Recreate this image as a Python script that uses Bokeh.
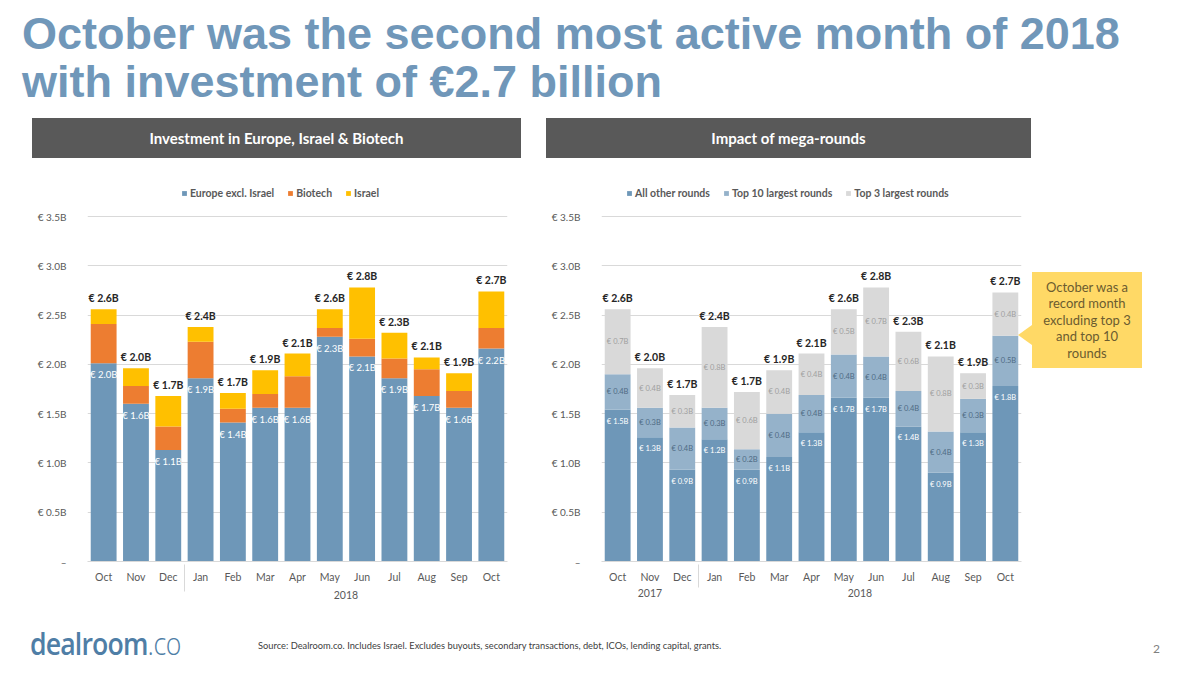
from bokeh.plotting import figure
from bokeh.models import (ColumnDataSource, FactorRange, Range1d, FixedTicker,
                          Legend, LegendItem, Div, Spacer)
from bokeh.layouts import column, row
from bokeh.core.properties import value
from bokeh.embed import file_html
from bokeh.resources import INLINE

# ---------------- data ----------------
months = ["Oct", "Nov", "Dec", "Jan", "Feb", "Mar", "Apr", "May", "Jun", "Jul", "Aug", "Sep", "Oct"]
years_left = [" ", " ", " ", "2018", "2018", "2018", "2018", "2018", "2018", "2018", "2018", "2018", "2018"]
years_right = ["2017", "2017", "2017", "2018", "2018", "2018", "2018", "2018", "2018", "2018", "2018", "2018", "2018"]

# Investment in Europe, Israel & Biotech (EUR billion)
europe = [2.01, 1.60, 1.13, 1.86, 1.41, 1.56, 1.56, 2.28, 2.08, 1.86, 1.68, 1.56, 2.16]
biotech = [0.40, 0.18, 0.24, 0.37, 0.14, 0.14, 0.32, 0.09, 0.18, 0.20, 0.27, 0.17, 0.21]
israel = [0.15, 0.18, 0.31, 0.15, 0.16, 0.24, 0.23, 0.19, 0.52, 0.26, 0.12, 0.18, 0.37]

# Impact of mega-rounds (EUR billion)
other_rounds = [1.54, 1.26, 0.93, 1.24, 0.93, 1.06, 1.31, 1.66, 1.66, 1.37, 0.90, 1.31, 1.78]
top10_rounds = [0.36, 0.30, 0.43, 0.32, 0.21, 0.44, 0.38, 0.44, 0.42, 0.36, 0.42, 0.34, 0.51]
top3_rounds = [0.66, 0.40, 0.33, 0.82, 0.58, 0.44, 0.42, 0.46, 0.70, 0.60, 0.76, 0.26, 0.44]

yticks = [0.0, 0.5, 1.0, 1.5, 2.0, 2.5, 3.0, 3.5]
ytick_labels = ["–", "€ 0.5B", "€ 1.0B", "€ 1.5B", "€ 2.0B", "€ 2.5B", "€ 3.0B", "€ 3.5B"]

left_legend = ["Europe excl. Israel", "Biotech", "Israel"]
right_legend = ["All other rounds", "Top 10 largest rounds", "Top 3 largest rounds"]

# ---------------- styles ----------------
FONT = "Lato"
GREY_TXT = "#595959"
GRID = "#d9d9d9"
C_EU, C_BIO, C_ISR = "#6e97b8", "#ed7d31", "#ffc000"
C_OTH, C_T10, C_T3 = "#6e97b8", "#95b2ca", "#d9d9d9"

AXIS_PX = 345          # pixels for 0 .. 3.5
HEAD_PX = 36           # extra frame room above 3.5 for the legend
Y_TOP = 3.5 * (AXIS_PX + HEAD_PX) / AXIS_PX


def eur(v):
    return "€ %.1fB" % v


def base_fig(factors, width, border_left, border_right):
    p = figure(x_range=FactorRange(*factors, factor_padding=0, group_padding=0, range_padding=0),
               y_range=Range1d(0, Y_TOP), width=width, height=457,
               min_border_left=border_left, min_border_right=border_right,
               min_border_top=58 - HEAD_PX, min_border_bottom=54,
               output_backend="svg", toolbar_location=None)
    p.outline_line_color = None
    p.xgrid.grid_line_color = None
    p.ygrid.grid_line_color = GRID
    p.ygrid.grid_line_width = 1
    ya = p.yaxis[0]
    ya.ticker = FixedTicker(ticks=yticks)
    ya.major_label_overrides = {t: l for t, l in zip(yticks, ytick_labels)}
    ya.axis_line_color = None
    ya.major_tick_line_color = None
    ya.minor_tick_line_color = None
    ya.major_label_standoff = 15
    ya.major_label_text_font = FONT
    ya.major_label_text_font_size = "10px"
    ya.major_label_text_color = GREY_TXT
    xa = p.xaxis[0]
    xa.axis_line_color = GRID
    xa.major_tick_line_color = None
    xa.minor_tick_line_color = None
    xa.separator_line_color = GRID
    xa.separator_line_width = 1
    xa.major_label_text_font = FONT
    xa.major_label_text_font_size = "10.5px"
    xa.major_label_text_color = GREY_TXT
    xa.major_label_standoff = 3
    xa.group_text_font = FONT
    xa.group_text_font_size = "10.5px"
    xa.group_text_font_style = "normal"
    xa.group_text_color = GREY_TXT
    return p


def add_legend(p, items, x_px):
    lg = Legend(items=items, orientation="horizontal", location=(x_px, AXIS_PX + 16),
                border_line_color=None, background_fill_alpha=0,
                glyph_width=6, glyph_height=6, label_standoff=3, spacing=13,
                label_height=14, padding=0, margin=0,
                label_text_font=FONT, label_text_font_size="10.5px",
                label_text_font_style="bold", label_text_color=GREY_TXT)
    p.add_layout(lg, "center")


# ---------------- left chart ----------------
fl = list(zip(years_left, months))
tot_l = [a + b + c for a, b, c in zip(europe, biotech, israel)]
src_l = ColumnDataSource(dict(x=fl, europe=europe, biotech=biotech, israel=israel,
                              total=tot_l, tot_lbl=[eur(v) for v in tot_l],
                              eu_lbl=[eur(v) for v in europe]))
pl = base_fig(fl, 489, 55, 14)
rl = pl.vbar_stack(["europe", "biotech", "israel"], x="x", width=0.8,
                   color=[C_EU, C_BIO, C_ISR], line_color=None, source=src_l)
pl.text(x="x", y="total", text="tot_lbl", source=src_l, text_font=value(FONT),
        text_font_style="bold", text_font_size="10.5px", text_color="#262626",
        text_align="center", text_baseline="bottom", y_offset=-5)
pl.text(x="x", y="europe", text="eu_lbl", source=src_l, text_font=value(FONT),
        text_font_size="9.5px", text_color="white",
        text_align="center", text_baseline="top", y_offset=6)
add_legend(pl, [LegendItem(label=n, renderers=[r]) for n, r in zip(left_legend, rl)], 94)

# ---------------- right chart ----------------
fr = list(zip(years_right, months))
tot_r = [a + b + c for a, b, c in zip(other_rounds, top10_rounds, top3_rounds)]
src_r = ColumnDataSource(dict(
    x=fr, other=other_rounds, top10=top10_rounds, top3=top3_rounds,
    total=tot_r, tot_lbl=[eur(v) for v in tot_r],
    oth_lbl=[eur(v) for v in other_rounds],
    t10_lbl=[eur(v) for v in top10_rounds],
    t3_lbl=[eur(v) for v in top3_rounds],
    t10_mid=[a + b / 2 for a, b in zip(other_rounds, top10_rounds)],
    t3_mid=[a + b + c / 2 for a, b, c in zip(other_rounds, top10_rounds, top3_rounds)]))
pr = base_fig(fr, 477, 55, 2)
rr = pr.vbar_stack(["other", "top10", "top3"], x="x", width=0.8,
                   color=[C_OTH, C_T10, C_T3], line_color=None, source=src_r)
pr.text(x="x", y="total", text="tot_lbl", source=src_r, text_font=value(FONT),
        text_font_style="bold", text_font_size="10.5px", text_color="#262626",
        text_align="center", text_baseline="bottom", y_offset=-5)
pr.text(x="x", y="other", text="oth_lbl", source=src_r, text_font=value(FONT),
        text_font_size="7.5px", text_color="white",
        text_align="center", text_baseline="top", y_offset=7)
pr.text(x="x", y="t10_mid", text="t10_lbl", source=src_r, text_font=value(FONT),
        text_font_size="7.5px", text_color="#4f6b84",
        text_align="center", text_baseline="middle")
pr.text(x="x", y="t3_mid", text="t3_lbl", source=src_r, text_font=value(FONT),
        text_font_size="7.5px", text_color="#a0a0a0",
        text_align="center", text_baseline="middle")
add_legend(pr, [LegendItem(label=n, renderers=[r]) for n, r in zip(right_legend, rr)], 25)

# ---------------- page furniture ----------------
title = Div(text=(
    '<div style="font-family:\'Liberation Sans\',Arial,sans-serif;font-weight:bold;'
    'font-size:45px;line-height:48px;color:#7097b9;padding:2px 0 0 14px;white-space:nowrap;">'
    'October was the second most active month of 2018<br>with investment of €2.7 billion</div>'),
    width=1184, height=110, margin=(0, 0, 0, 0))


def header(txt, w):
    return Div(text=(
        '<div style="width:%dpx;height:40px;background:#595959;color:#ffffff;'
        'font-family:Lato,sans-serif;font-weight:bold;font-size:15px;line-height:40px;'
        'text-align:center;white-space:nowrap;">%s</div>' % (w, txt)),
        width=w, height=40, margin=(0, 0, 0, 0))


callout = Div(text=(
    '<div style="position:relative;width:130px;height:497px;">'
    '<div style="position:absolute;left:-13px;top:207px;width:0;height:0;'
    'border-top:10px solid transparent;border-bottom:10px solid transparent;'
    'border-right:14px solid #ffd966;"></div>'
    '<div style="position:absolute;left:1px;top:154px;width:110px;height:96px;background:#ffd966;'
    'color:#6b5c30;font-family:Lato,sans-serif;font-size:13px;line-height:16.5px;text-align:center;'
    'display:flex;align-items:center;justify-content:center;">'
    'October was a<br>record month<br>excluding top 3<br>and top 10<br>rounds</div></div>'),
    width=130, height=497, margin=(0, 0, 0, 0))

footer = Div(text=(
    '<div style="position:relative;width:1184px;height:52px;">'
    '<div style="position:absolute;left:22px;top:11px;font-family:\'Open Sans\',sans-serif;'
    'font-size:31px;line-height:34px;color:#4f7ea6;white-space:nowrap;letter-spacing:-1px;'
    'transform:scaleX(0.86);transform-origin:left center;">'
    '<span style="font-weight:600;">dealroom</span><span style="font-weight:300;letter-spacing:-0.5px;">.co</span></div>'
    '<div style="position:absolute;left:250px;top:26px;font-family:Lato,sans-serif;font-size:9.3px;'
    'line-height:10px;color:#404040;white-space:nowrap;">Source: Dealroom.co. Includes Israel. '
    'Excludes buyouts, secondary transactions, debt, ICOs, lending capital, grants.</div>'
    '<div style="position:absolute;left:1145px;top:27px;font-family:Lato,sans-serif;font-size:12px;'
    'line-height:14px;color:#808080;">2</div></div>'),
    width=1184, height=52, margin=(0, 0, 0, 0))

left_col = column(header("Investment in Europe, Israel &amp; Biotech", 489), pl, spacing=0)
right_col = column(header("Impact of mega-rounds", 485), pr, spacing=0)
body = row(Spacer(width=24, height=10), left_col, Spacer(width=25, height=10), right_col, callout, spacing=0)
page = column(title, body, footer, spacing=0, margin=(8, 0, 0, 8))

open("out.html", "w").write(file_html(page, INLINE))
